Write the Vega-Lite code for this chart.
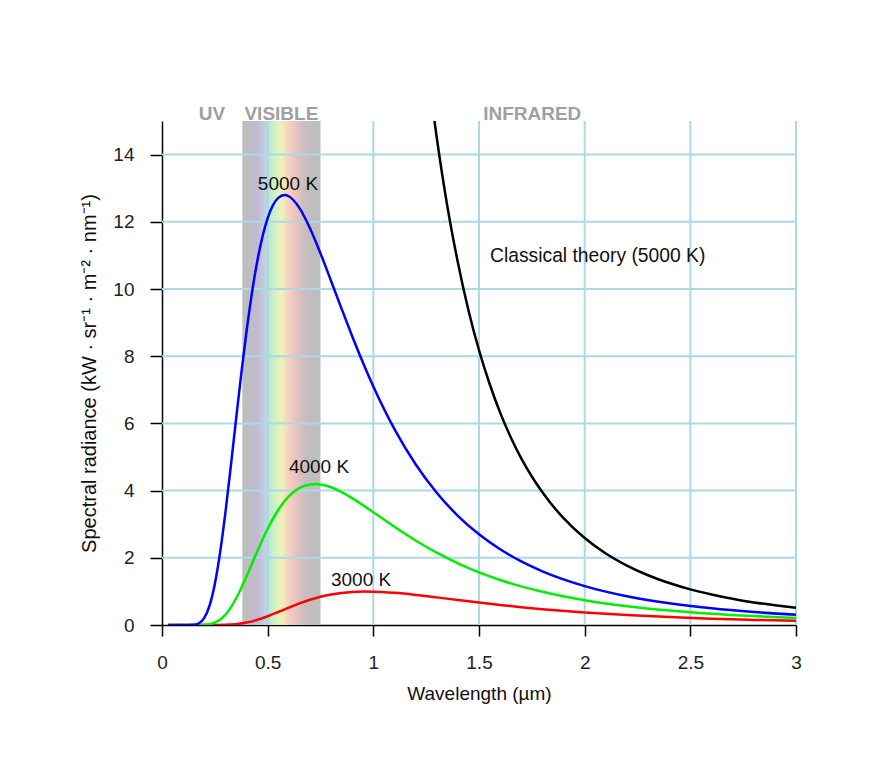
{
  "$schema": "https://vega.github.io/schema/vega-lite/v6.json",
  "width": 634,
  "height": 504,
  "autosize": "none",
  "padding": {"left": 162, "top": 121, "right": 73, "bottom": 148},
  "background": "white",
  "config": {
    "font": "Liberation Sans",
    "view": {"stroke": null},
    "axis": {
      "grid": false,
      "labelFlush": false,
      "domainColor": "#000000",
      "domainWidth": 1.5,
      "tickColor": "#000000",
      "tickWidth": 1.5,
      "labelFont": "Liberation Sans",
      "labelFontSize": 19,
      "labelColor": "#222222",
      "titleFont": "Liberation Sans",
      "titleFontSize": 19,
      "titleFontWeight": "normal",
      "titleColor": "#111111"
    }
  },
  "datasets": {
    "curves": [
      {"lambda": 0.03, "value": 0, "T": "3000 K"},
      {"lambda": 0.1, "value": 0, "T": "3000 K"},
      {"lambda": 0.2, "value": 0, "T": "3000 K"},
      {"lambda": 0.25, "value": 0.001, "T": "3000 K"},
      {"lambda": 0.3, "value": 0.006, "T": "3000 K"},
      {"lambda": 0.35, "value": 0.025, "T": "3000 K"},
      {"lambda": 0.4, "value": 0.072, "T": "3000 K"},
      {"lambda": 0.45, "value": 0.152, "T": "3000 K"},
      {"lambda": 0.5, "value": 0.26, "T": "3000 K"},
      {"lambda": 0.55, "value": 0.387, "T": "3000 K"},
      {"lambda": 0.6, "value": 0.517, "T": "3000 K"},
      {"lambda": 0.65, "value": 0.642, "T": "3000 K"},
      {"lambda": 0.7, "value": 0.751, "T": "3000 K"},
      {"lambda": 0.75, "value": 0.84, "T": "3000 K"},
      {"lambda": 0.8, "value": 0.908, "T": "3000 K"},
      {"lambda": 0.85, "value": 0.955, "T": "3000 K"},
      {"lambda": 0.9, "value": 0.983, "T": "3000 K"},
      {"lambda": 0.95, "value": 0.994, "T": "3000 K"},
      {"lambda": 1.0, "value": 0.992, "T": "3000 K"},
      {"lambda": 1.1, "value": 0.957, "T": "3000 K"},
      {"lambda": 1.2, "value": 0.896, "T": "3000 K"},
      {"lambda": 1.3, "value": 0.822, "T": "3000 K"},
      {"lambda": 1.4, "value": 0.744, "T": "3000 K"},
      {"lambda": 1.5, "value": 0.668, "T": "3000 K"},
      {"lambda": 1.6, "value": 0.597, "T": "3000 K"},
      {"lambda": 1.7, "value": 0.531, "T": "3000 K"},
      {"lambda": 1.8, "value": 0.472, "T": "3000 K"},
      {"lambda": 2.0, "value": 0.372, "T": "3000 K"},
      {"lambda": 2.2, "value": 0.295, "T": "3000 K"},
      {"lambda": 2.4, "value": 0.235, "T": "3000 K"},
      {"lambda": 2.6, "value": 0.188, "T": "3000 K"},
      {"lambda": 2.8, "value": 0.152, "T": "3000 K"},
      {"lambda": 3.0, "value": 0.124, "T": "3000 K"},
      {"lambda": 0.03, "value": 0, "T": "4000 K"},
      {"lambda": 0.1, "value": 0, "T": "4000 K"},
      {"lambda": 0.15, "value": 0, "T": "4000 K"},
      {"lambda": 0.2, "value": 0.006, "T": "4000 K"},
      {"lambda": 0.25, "value": 0.069, "T": "4000 K"},
      {"lambda": 0.3, "value": 0.304, "T": "4000 K"},
      {"lambda": 0.35, "value": 0.781, "T": "4000 K"},
      {"lambda": 0.4, "value": 1.446, "T": "4000 K"},
      {"lambda": 0.45, "value": 2.18, "T": "4000 K"},
      {"lambda": 0.5, "value": 2.865, "T": "4000 K"},
      {"lambda": 0.55, "value": 3.423, "T": "4000 K"},
      {"lambda": 0.6, "value": 3.825, "T": "4000 K"},
      {"lambda": 0.65, "value": 4.072, "T": "4000 K"},
      {"lambda": 0.7, "value": 4.181, "T": "4000 K"},
      {"lambda": 0.725, "value": 4.194, "T": "4000 K"},
      {"lambda": 0.75, "value": 4.181, "T": "4000 K"},
      {"lambda": 0.8, "value": 4.099, "T": "4000 K"},
      {"lambda": 0.85, "value": 3.956, "T": "4000 K"},
      {"lambda": 0.9, "value": 3.776, "T": "4000 K"},
      {"lambda": 0.95, "value": 3.572, "T": "4000 K"},
      {"lambda": 1.0, "value": 3.356, "T": "4000 K"},
      {"lambda": 1.1, "value": 2.922, "T": "4000 K"},
      {"lambda": 1.2, "value": 2.514, "T": "4000 K"},
      {"lambda": 1.3, "value": 2.152, "T": "4000 K"},
      {"lambda": 1.4, "value": 1.836, "T": "4000 K"},
      {"lambda": 1.5, "value": 1.568, "T": "4000 K"},
      {"lambda": 1.6, "value": 1.341, "T": "4000 K"},
      {"lambda": 1.7, "value": 1.15, "T": "4000 K"},
      {"lambda": 1.8, "value": 0.989, "T": "4000 K"},
      {"lambda": 2.0, "value": 0.738, "T": "4000 K"},
      {"lambda": 2.2, "value": 0.56, "T": "4000 K"},
      {"lambda": 2.4, "value": 0.43, "T": "4000 K"},
      {"lambda": 2.6, "value": 0.335, "T": "4000 K"},
      {"lambda": 2.8, "value": 0.265, "T": "4000 K"},
      {"lambda": 3.0, "value": 0.212, "T": "4000 K"},
      {"lambda": 0.03, "value": 0, "T": "5000 K"},
      {"lambda": 0.1, "value": 0, "T": "5000 K"},
      {"lambda": 0.15, "value": 0.007, "T": "5000 K"},
      {"lambda": 0.175, "value": 0.052, "T": "5000 K"},
      {"lambda": 0.2, "value": 0.21, "T": "5000 K"},
      {"lambda": 0.225, "value": 0.577, "T": "5000 K"},
      {"lambda": 0.25, "value": 1.223, "T": "5000 K"},
      {"lambda": 0.275, "value": 2.162, "T": "5000 K"},
      {"lambda": 0.3, "value": 3.346, "T": "5000 K"},
      {"lambda": 0.325, "value": 4.691, "T": "5000 K"},
      {"lambda": 0.35, "value": 6.096, "T": "5000 K"},
      {"lambda": 0.375, "value": 7.471, "T": "5000 K"},
      {"lambda": 0.4, "value": 8.742, "T": "5000 K"},
      {"lambda": 0.45, "value": 10.8, "T": "5000 K"},
      {"lambda": 0.5, "value": 12.107, "T": "5000 K"},
      {"lambda": 0.55, "value": 12.712, "T": "5000 K"},
      {"lambda": 0.58, "value": 12.797, "T": "5000 K"},
      {"lambda": 0.6, "value": 12.76, "T": "5000 K"},
      {"lambda": 0.65, "value": 12.414, "T": "5000 K"},
      {"lambda": 0.7, "value": 11.81, "T": "5000 K"},
      {"lambda": 0.75, "value": 11.06, "T": "5000 K"},
      {"lambda": 0.8, "value": 10.24, "T": "5000 K"},
      {"lambda": 0.85, "value": 9.41, "T": "5000 K"},
      {"lambda": 0.9, "value": 8.594, "T": "5000 K"},
      {"lambda": 0.95, "value": 7.82, "T": "5000 K"},
      {"lambda": 1.0, "value": 7.1, "T": "5000 K"},
      {"lambda": 1.1, "value": 5.83, "T": "5000 K"},
      {"lambda": 1.2, "value": 4.786, "T": "5000 K"},
      {"lambda": 1.3, "value": 3.937, "T": "5000 K"},
      {"lambda": 1.4, "value": 3.251, "T": "5000 K"},
      {"lambda": 1.5, "value": 2.699, "T": "5000 K"},
      {"lambda": 1.6, "value": 2.253, "T": "5000 K"},
      {"lambda": 1.7, "value": 1.892, "T": "5000 K"},
      {"lambda": 1.8, "value": 1.597, "T": "5000 K"},
      {"lambda": 2.0, "value": 1.158, "T": "5000 K"},
      {"lambda": 2.2, "value": 0.856, "T": "5000 K"},
      {"lambda": 2.4, "value": 0.646, "T": "5000 K"},
      {"lambda": 2.6, "value": 0.495, "T": "5000 K"},
      {"lambda": 2.8, "value": 0.386, "T": "5000 K"},
      {"lambda": 3.0, "value": 0.305, "T": "5000 K"}
    ],
    "classical": [
      {"lambda": 1.28, "value": 15.43},
      {"lambda": 1.3, "value": 14.51},
      {"lambda": 1.35, "value": 12.47},
      {"lambda": 1.4, "value": 10.79},
      {"lambda": 1.45, "value": 9.37},
      {"lambda": 1.5, "value": 8.18},
      {"lambda": 1.55, "value": 7.18},
      {"lambda": 1.6, "value": 6.32},
      {"lambda": 1.65, "value": 5.59},
      {"lambda": 1.7, "value": 4.96},
      {"lambda": 1.75, "value": 4.42},
      {"lambda": 1.8, "value": 3.95},
      {"lambda": 1.9, "value": 3.18},
      {"lambda": 2.0, "value": 2.59},
      {"lambda": 2.1, "value": 2.13},
      {"lambda": 2.2, "value": 1.77},
      {"lambda": 2.3, "value": 1.48},
      {"lambda": 2.4, "value": 1.25},
      {"lambda": 2.5, "value": 1.06},
      {"lambda": 2.6, "value": 0.91},
      {"lambda": 2.7, "value": 0.78},
      {"lambda": 2.8, "value": 0.67},
      {"lambda": 2.9, "value": 0.59},
      {"lambda": 3.0, "value": 0.51}
    ],
    "xgrid": [{"tick": 0.5}, {"tick": 1}, {"tick": 1.5}, {"tick": 2}, {"tick": 2.5}, {"tick": 3}],
    "ygrid": [{"tick": 2}, {"tick": 4}, {"tick": 6}, {"tick": 8}, {"tick": 10}, {"tick": 12}, {"tick": 14}],
    "one": [{}]
  },
  "layer": [
    {
      "data": {"name": "one"},
      "mark": {
        "type": "rect",
        "fill": {
          "gradient": "linear",
          "x1": 0, "y1": 0, "x2": 1, "y2": 0,
          "stops": [
            {"offset": 0, "color": "#bebebe"},
            {"offset": 0.08, "color": "#bebebe"},
            {"offset": 0.2, "color": "#c4b9d6"},
            {"offset": 0.3, "color": "#bcd6e0"},
            {"offset": 0.38, "color": "#c2f0c8"},
            {"offset": 0.5, "color": "#eef2b8"},
            {"offset": 0.62, "color": "#f7c9c0"},
            {"offset": 0.8, "color": "#c8bebe"},
            {"offset": 0.9, "color": "#bebebe"},
            {"offset": 1, "color": "#bebebe"}
          ]
        }
      },
      "encoding": {
        "x": {"datum": 0.38, "type": "quantitative", "scale": {"domain": [0, 3], "nice": false}},
        "x2": {"datum": 0.75}
      }
    },
    {
      "data": {"name": "xgrid"},
      "mark": {"type": "rule", "stroke": "#add8e6", "strokeWidth": 2},
      "encoding": {
        "x": {"field": "tick", "type": "quantitative", "scale": {"domain": [0, 3], "nice": false}}
      }
    },
    {
      "data": {"name": "ygrid"},
      "mark": {"type": "rule", "stroke": "#add8e6", "strokeWidth": 2},
      "encoding": {
        "y": {"field": "tick", "type": "quantitative", "scale": {"domain": [0, 15], "nice": false}}
      }
    },
    {
      "data": {"name": "classical"},
      "mark": {"type": "line", "stroke": "#000000", "strokeWidth": 2.5, "interpolate": "monotone", "clip": true},
      "encoding": {
        "x": {"field": "lambda", "type": "quantitative", "scale": {"domain": [0, 3], "nice": false}},
        "y": {"field": "value", "type": "quantitative", "scale": {"domain": [0, 15], "nice": false}}
      }
    },
    {
      "data": {"name": "curves"},
      "mark": {"type": "line", "strokeWidth": 2.5, "interpolate": "monotone", "clip": true},
      "encoding": {
        "x": {
          "field": "lambda", "type": "quantitative",
          "scale": {"domain": [0, 3], "nice": false},
          "axis": {"values": [0, 0.5, 1, 1.5, 2, 2.5, 3], "format": "~g", "title": "Wavelength (µm)", "tickSize": 11, "labelPadding": 17, "titlePadding": 12}
        },
        "y": {
          "field": "value", "type": "quantitative",
          "scale": {"domain": [0, 15], "nice": false},
          "axis": {"values": [0, 2, 4, 6, 8, 10, 12, 14], "title": "Spectral radiance (kW · sr⁻¹ · m⁻² · nm⁻¹)", "titleFontSize": 20, "tickSize": 12, "labelPadding": 16, "titlePadding": 13}
        },
        "stroke": {
          "field": "T", "type": "nominal",
          "scale": {"domain": ["3000 K", "4000 K", "5000 K"], "range": ["#ff0000", "#00ee00", "#0000ff"]},
          "legend": null
        }
      }
    },
    {
      "data": {"name": "one"},
      "mark": {"type": "text", "text": "5000 K", "fontSize": 19, "align": "center", "baseline": "alphabetic", "color": "#111111"},
      "encoding": {"x": {"datum": 0.596, "type": "quantitative"}, "y": {"datum": 12.95, "type": "quantitative"}}
    },
    {
      "data": {"name": "one"},
      "mark": {"type": "text", "text": "4000 K", "fontSize": 19, "align": "center", "baseline": "alphabetic", "color": "#111111"},
      "encoding": {"x": {"datum": 0.743, "type": "quantitative"}, "y": {"datum": 4.51, "type": "quantitative"}}
    },
    {
      "data": {"name": "one"},
      "mark": {"type": "text", "text": "3000 K", "fontSize": 19, "align": "center", "baseline": "alphabetic", "color": "#111111"},
      "encoding": {"x": {"datum": 0.942, "type": "quantitative"}, "y": {"datum": 1.16, "type": "quantitative"}}
    },
    {
      "data": {"name": "one"},
      "mark": {"type": "text", "text": "Classical theory (5000 K)", "fontSize": 19.3, "align": "left", "baseline": "alphabetic", "color": "#111111"},
      "encoding": {"x": {"datum": 1.552, "type": "quantitative"}, "y": {"datum": 10.81, "type": "quantitative"}}
    },
    {
      "data": {"name": "one"},
      "mark": {"type": "text", "text": "UV", "fontSize": 19, "fontWeight": "bold", "align": "center", "baseline": "alphabetic", "color": "#a0a0a0", "dy": -1},
      "encoding": {"x": {"datum": 0.2366, "type": "quantitative"}, "y": {"datum": 15, "type": "quantitative"}}
    },
    {
      "data": {"name": "one"},
      "mark": {"type": "text", "text": "VISIBLE", "fontSize": 19, "fontWeight": "bold", "align": "center", "baseline": "alphabetic", "color": "#a0a0a0", "dy": -1},
      "encoding": {"x": {"datum": 0.565, "type": "quantitative"}, "y": {"datum": 15, "type": "quantitative"}}
    },
    {
      "data": {"name": "one"},
      "mark": {"type": "text", "text": "INFRARED", "fontSize": 19, "fontWeight": "bold", "align": "center", "baseline": "alphabetic", "color": "#a0a0a0", "dy": -1},
      "encoding": {"x": {"datum": 1.752, "type": "quantitative"}, "y": {"datum": 15, "type": "quantitative"}}
    }
  ]
}
